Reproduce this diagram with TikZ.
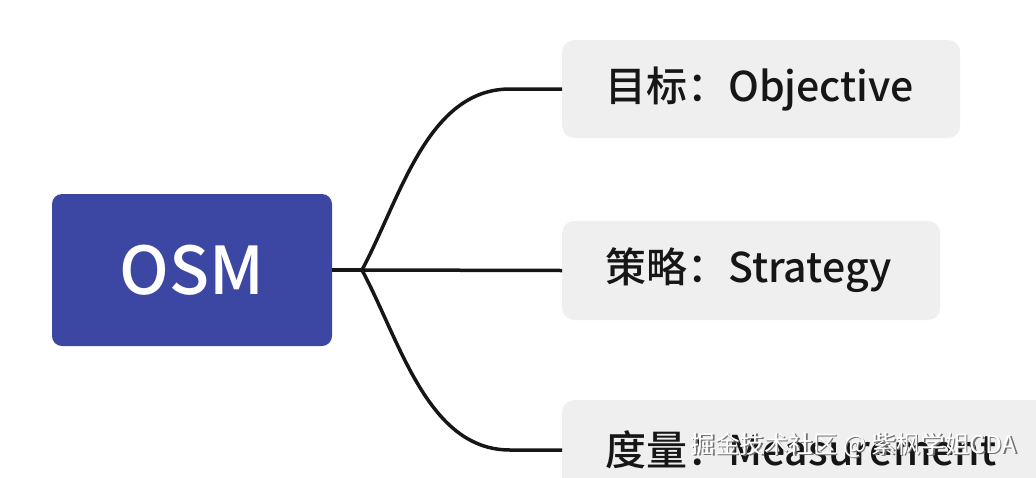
\documentclass[tikz,border=0pt]{standalone}
\usepackage{fontspec}
\setmainfont{Noto Sans CJK SC}
\newfontfamily\cjk{Noto Sans CJK SC}
\newfontfamily\cjkmed{Noto Sans CJK SC Medium}
\usepackage{xcolor}
\usetikzlibrary{positioning}
\definecolor{osmblue}{HTML}{3C47A4}
\definecolor{leafgray}{HTML}{EFEFEF}
\definecolor{inkblack}{HTML}{161616}
\tikzstyle{rootnode} = [rectangle, rounded corners=10pt, fill=osmblue, text=white, minimum width=280pt, minimum height=152pt, inner sep=0pt, font=\cjkmed\fontsize{66}{66}\selectfont]
\tikzstyle{leafnode} = [rectangle, rounded corners=12pt, fill=leafgray, text=inkblack, anchor=west, inner xsep=43pt, inner ysep=0pt, align=left, font=\cjkmed\fontsize{41}{41}\selectfont]
\tikzstyle{branch} = [draw=inkblack, line width=3.5pt]

\begin{document}
\begin{tikzpicture}[x=1pt, y=-1pt]
\useasboundingbox (0,0) rectangle (1036,477);
\clip (0,0) rectangle (1036,477);

% root
\node [rootnode] at (192,270) (osm) {OSM};

% leaves
\node [leafnode, text width=312pt, minimum height=98pt] at (562,89) (obj) {目标：Objective};
\node [leafnode, text width=292pt, minimum height=99pt] at (562,270.5) (str) {策略：Strategy};
\node [leafnode, text width=412pt, minimum height=100pt] at (562,450) (mea) {度量：Measurement};

% branches
\coordinate (hub) at (362,270);
\coordinate (objbend) at (510,89);
\coordinate (meabend) at (510,450);
\path [branch] (osm.east) to (hub);
\path [branch] (hub) to (str.west);
\path [branch] (hub) to [out=62, in=180, looseness=0.9] (objbend) to (obj.west);
\path [branch] (hub) to [out=-62, in=180, looseness=0.9] (meabend) to (mea.west);

% watermark
\node [text=black!55, anchor=west, font=\cjk\fontsize{24.5}{24.5}\selectfont] at (688.5,446.5) (marksh) {掘金技术社区 @ 紫枫学姐CDA};
\node [text=white, anchor=west, font=\cjk\fontsize{24.5}{24.5}\selectfont] at (687,445) (mark) {掘金技术社区 @ 紫枫学姐CDA};
\end{tikzpicture}
\end{document}
